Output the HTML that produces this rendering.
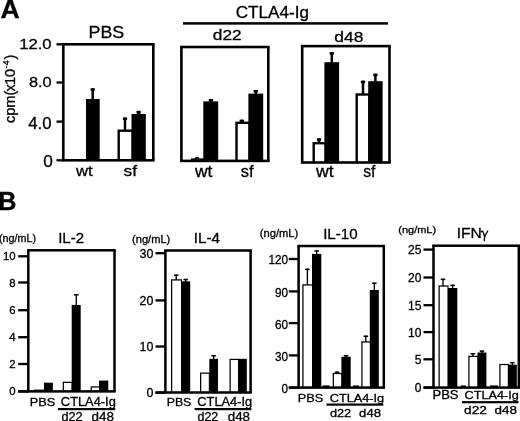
<!DOCTYPE html>
<html><head><meta charset="utf-8"><style>
html,body{margin:0;padding:0;background:#fff;}
svg{display:block;filter:grayscale(1) blur(0.3px);}
text{font-family:"Liberation Sans",sans-serif;fill:#000;stroke:#000;stroke-width:0.3px;}
</style></head><body>
<svg width="520" height="421" viewBox="0 0 520 421">
<rect width="520" height="421" fill="#fff"/>
<rect x="183.00" y="22.15" width="205.00" height="2.50" fill="#000"/>
<rect x="62.00" y="43.00" width="92.60" height="2.60" fill="#000"/>
<rect x="62.00" y="159.00" width="92.60" height="2.60" fill="#000"/>
<rect x="62.00" y="44.30" width="2.60" height="116.00" fill="#000"/>
<rect x="152.00" y="44.30" width="2.60" height="116.00" fill="#000"/>
<rect x="56.50" y="43.15" width="6.80" height="2.30" fill="#000"/>
<rect x="56.50" y="81.35" width="6.80" height="2.30" fill="#000"/>
<rect x="56.50" y="120.45" width="6.80" height="2.30" fill="#000"/>
<rect x="56.50" y="159.15" width="6.80" height="2.30" fill="#000"/>
<rect x="91.45" y="88.30" width="2.50" height="11.70" fill="#000"/>
<rect x="90.55" y="88.30" width="4.30" height="2.50" fill="#000"/>
<rect x="86.00" y="99.00" width="13.70" height="61.30" fill="#000"/>
<rect x="123.75" y="117.50" width="2.50" height="13.00" fill="#000"/>
<rect x="122.85" y="117.50" width="4.30" height="2.50" fill="#000"/>
<rect x="117.50" y="129.50" width="15.92" height="30.80" fill="#000"/>
<rect x="119.90" y="131.90" width="11.60" height="27.10" fill="#fff"/>
<rect x="137.35" y="110.90" width="2.50" height="4.10" fill="#000"/>
<rect x="136.45" y="110.90" width="4.30" height="2.50" fill="#000"/>
<rect x="131.50" y="114.00" width="14.30" height="46.30" fill="#000"/>
<rect x="180.10" y="45.70" width="89.50" height="2.60" fill="#000"/>
<rect x="180.10" y="159.60" width="89.50" height="2.60" fill="#000"/>
<rect x="180.10" y="47.00" width="2.60" height="113.90" fill="#000"/>
<rect x="267.00" y="47.00" width="2.60" height="113.90" fill="#000"/>
<rect x="195.75" y="157.30" width="2.50" height="2.10" fill="#000"/>
<rect x="194.85" y="157.30" width="4.30" height="2.50" fill="#000"/>
<rect x="191.00" y="158.40" width="13.92" height="2.50" fill="#000"/>
<rect x="193.40" y="160.80" width="9.60" height="-1.20" fill="#fff"/>
<rect x="209.65" y="99.00" width="2.50" height="3.40" fill="#000"/>
<rect x="208.75" y="99.00" width="4.30" height="2.50" fill="#000"/>
<rect x="203.30" y="101.40" width="14.90" height="59.50" fill="#000"/>
<rect x="240.55" y="119.70" width="2.50" height="2.90" fill="#000"/>
<rect x="239.65" y="119.70" width="4.30" height="2.50" fill="#000"/>
<rect x="235.30" y="121.60" width="15.02" height="39.30" fill="#000"/>
<rect x="237.70" y="124.00" width="10.70" height="35.60" fill="#fff"/>
<rect x="254.55" y="90.00" width="2.50" height="4.60" fill="#000"/>
<rect x="253.65" y="90.00" width="4.30" height="2.50" fill="#000"/>
<rect x="248.40" y="93.60" width="14.80" height="67.30" fill="#000"/>
<rect x="300.90" y="44.80" width="89.90" height="2.60" fill="#000"/>
<rect x="300.90" y="161.20" width="89.90" height="2.60" fill="#000"/>
<rect x="300.90" y="46.10" width="2.60" height="116.40" fill="#000"/>
<rect x="388.20" y="46.10" width="2.60" height="116.40" fill="#000"/>
<rect x="317.75" y="138.30" width="2.50" height="4.70" fill="#000"/>
<rect x="316.85" y="138.30" width="4.30" height="2.50" fill="#000"/>
<rect x="312.50" y="142.00" width="14.02" height="20.50" fill="#000"/>
<rect x="314.90" y="144.40" width="9.70" height="16.80" fill="#fff"/>
<rect x="330.55" y="52.10" width="2.50" height="11.10" fill="#000"/>
<rect x="329.65" y="52.10" width="4.30" height="2.50" fill="#000"/>
<rect x="324.40" y="62.20" width="14.70" height="100.30" fill="#000"/>
<rect x="361.75" y="80.70" width="2.50" height="13.60" fill="#000"/>
<rect x="360.85" y="80.70" width="4.30" height="2.50" fill="#000"/>
<rect x="355.50" y="93.30" width="14.62" height="69.20" fill="#000"/>
<rect x="357.90" y="95.70" width="10.30" height="65.50" fill="#fff"/>
<rect x="374.15" y="73.70" width="2.50" height="8.50" fill="#000"/>
<rect x="373.25" y="73.70" width="4.30" height="2.50" fill="#000"/>
<rect x="368.20" y="81.20" width="14.40" height="81.30" fill="#000"/>
<rect x="27.05" y="249.05" width="88.70" height="2.50" fill="#000"/>
<rect x="27.05" y="390.15" width="88.70" height="2.50" fill="#000"/>
<rect x="27.05" y="250.30" width="2.50" height="141.10" fill="#000"/>
<rect x="113.25" y="250.30" width="2.50" height="141.10" fill="#000"/>
<rect x="18.20" y="390.10" width="10.10" height="2.60" fill="#000"/>
<rect x="18.20" y="255.15" width="10.10" height="2.30" fill="#000"/>
<rect x="18.20" y="281.35" width="10.10" height="2.30" fill="#000"/>
<rect x="18.20" y="309.05" width="10.10" height="2.30" fill="#000"/>
<rect x="18.20" y="336.05" width="10.10" height="2.30" fill="#000"/>
<rect x="18.20" y="362.85" width="10.10" height="2.30" fill="#000"/>
<rect x="18.20" y="390.25" width="10.10" height="2.30" fill="#000"/>
<rect x="33.50" y="389.60" width="10.50" height="1.80" fill="#000"/>
<rect x="44.00" y="382.70" width="8.90" height="8.70" fill="#000"/>
<rect x="62.70" y="381.70" width="9.80" height="9.70" fill="#000"/>
<rect x="63.95" y="382.95" width="7.55" height="7.15" fill="#fff"/>
<rect x="75.62" y="294.00" width="1.35" height="12.00" fill="#000"/>
<rect x="74.05" y="294.00" width="4.50" height="1.50" fill="#000"/>
<rect x="71.70" y="305.00" width="9.00" height="86.40" fill="#000"/>
<rect x="90.60" y="386.30" width="9.40" height="5.10" fill="#000"/>
<rect x="91.85" y="387.55" width="7.15" height="2.55" fill="#fff"/>
<rect x="99.00" y="380.60" width="9.30" height="10.80" fill="#000"/>
<rect x="164.15" y="249.25" width="87.70" height="2.50" fill="#000"/>
<rect x="164.15" y="391.25" width="87.70" height="2.50" fill="#000"/>
<rect x="164.15" y="250.50" width="2.50" height="142.00" fill="#000"/>
<rect x="249.35" y="250.50" width="2.50" height="142.00" fill="#000"/>
<rect x="155.50" y="391.20" width="9.90" height="2.60" fill="#000"/>
<rect x="155.50" y="252.05" width="9.90" height="2.30" fill="#000"/>
<rect x="155.50" y="299.25" width="9.90" height="2.30" fill="#000"/>
<rect x="155.50" y="345.35" width="9.90" height="2.30" fill="#000"/>
<rect x="155.50" y="391.65" width="9.90" height="2.30" fill="#000"/>
<rect x="175.52" y="274.50" width="1.35" height="5.80" fill="#000"/>
<rect x="173.95" y="274.50" width="4.50" height="1.50" fill="#000"/>
<rect x="171.00" y="279.30" width="11.00" height="113.20" fill="#000"/>
<rect x="172.25" y="280.55" width="8.75" height="110.65" fill="#fff"/>
<rect x="184.97" y="278.80" width="1.35" height="3.50" fill="#000"/>
<rect x="183.40" y="278.80" width="4.50" height="1.50" fill="#000"/>
<rect x="181.10" y="281.30" width="9.10" height="111.20" fill="#000"/>
<rect x="200.00" y="372.50" width="9.80" height="20.00" fill="#000"/>
<rect x="201.25" y="373.75" width="7.55" height="17.45" fill="#fff"/>
<rect x="212.97" y="355.00" width="1.35" height="4.80" fill="#000"/>
<rect x="211.40" y="355.00" width="4.50" height="1.50" fill="#000"/>
<rect x="209.30" y="358.80" width="8.70" height="33.70" fill="#000"/>
<rect x="229.50" y="358.80" width="9.50" height="33.70" fill="#000"/>
<rect x="230.75" y="360.05" width="7.25" height="31.15" fill="#fff"/>
<rect x="238.00" y="358.80" width="8.80" height="33.70" fill="#000"/>
<rect x="297.35" y="244.75" width="87.70" height="2.50" fill="#000"/>
<rect x="297.35" y="386.35" width="87.70" height="2.50" fill="#000"/>
<rect x="297.35" y="246.00" width="2.50" height="141.60" fill="#000"/>
<rect x="382.55" y="246.00" width="2.50" height="141.60" fill="#000"/>
<rect x="288.80" y="386.30" width="9.80" height="2.60" fill="#000"/>
<rect x="288.80" y="257.85" width="9.80" height="2.30" fill="#000"/>
<rect x="288.80" y="290.25" width="9.80" height="2.30" fill="#000"/>
<rect x="288.80" y="321.95" width="9.80" height="2.30" fill="#000"/>
<rect x="288.80" y="354.25" width="9.80" height="2.30" fill="#000"/>
<rect x="288.80" y="386.45" width="9.80" height="2.30" fill="#000"/>
<rect x="306.72" y="268.60" width="1.35" height="16.70" fill="#000"/>
<rect x="305.15" y="268.60" width="4.50" height="1.50" fill="#000"/>
<rect x="302.30" y="284.30" width="10.70" height="103.30" fill="#000"/>
<rect x="303.55" y="285.55" width="8.45" height="100.75" fill="#fff"/>
<rect x="315.97" y="250.30" width="1.35" height="4.60" fill="#000"/>
<rect x="314.40" y="250.30" width="4.50" height="1.50" fill="#000"/>
<rect x="312.00" y="253.90" width="9.30" height="133.70" fill="#000"/>
<rect x="336.37" y="371.50" width="1.35" height="2.40" fill="#000"/>
<rect x="334.80" y="371.50" width="4.50" height="1.50" fill="#000"/>
<rect x="332.70" y="372.90" width="9.70" height="14.70" fill="#000"/>
<rect x="333.95" y="374.15" width="7.45" height="12.15" fill="#fff"/>
<rect x="345.37" y="355.00" width="1.35" height="2.80" fill="#000"/>
<rect x="343.80" y="355.00" width="4.50" height="1.50" fill="#000"/>
<rect x="341.40" y="356.80" width="9.30" height="30.80" fill="#000"/>
<rect x="365.12" y="335.50" width="1.35" height="6.80" fill="#000"/>
<rect x="363.55" y="335.50" width="4.50" height="1.50" fill="#000"/>
<rect x="361.30" y="341.30" width="10.00" height="46.30" fill="#000"/>
<rect x="362.55" y="342.55" width="7.75" height="43.75" fill="#fff"/>
<rect x="373.62" y="282.50" width="1.35" height="8.50" fill="#000"/>
<rect x="372.05" y="282.50" width="4.50" height="1.50" fill="#000"/>
<rect x="369.80" y="290.00" width="9.00" height="97.60" fill="#000"/>
<rect x="322.70" y="385.40" width="6.90" height="2.20" fill="#000"/>
<rect x="353.00" y="385.40" width="6.00" height="2.20" fill="#000"/>
<rect x="432.25" y="244.45" width="87.80" height="2.50" fill="#000"/>
<rect x="432.25" y="386.35" width="87.80" height="2.50" fill="#000"/>
<rect x="432.25" y="245.70" width="2.50" height="141.90" fill="#000"/>
<rect x="517.55" y="245.70" width="2.50" height="141.90" fill="#000"/>
<rect x="423.50" y="386.30" width="10.00" height="2.60" fill="#000"/>
<rect x="423.50" y="248.45" width="10.00" height="2.30" fill="#000"/>
<rect x="423.50" y="276.35" width="10.00" height="2.30" fill="#000"/>
<rect x="423.50" y="304.05" width="10.00" height="2.30" fill="#000"/>
<rect x="423.50" y="330.95" width="10.00" height="2.30" fill="#000"/>
<rect x="423.50" y="358.15" width="10.00" height="2.30" fill="#000"/>
<rect x="423.50" y="386.45" width="10.00" height="2.30" fill="#000"/>
<rect x="442.32" y="278.60" width="1.35" height="7.80" fill="#000"/>
<rect x="440.75" y="278.60" width="4.50" height="1.50" fill="#000"/>
<rect x="438.50" y="285.40" width="10.00" height="102.20" fill="#000"/>
<rect x="439.75" y="286.65" width="7.75" height="99.65" fill="#fff"/>
<rect x="451.93" y="284.60" width="1.35" height="4.40" fill="#000"/>
<rect x="450.35" y="284.60" width="4.50" height="1.50" fill="#000"/>
<rect x="447.90" y="288.00" width="9.40" height="99.60" fill="#000"/>
<rect x="472.22" y="353.00" width="1.35" height="3.80" fill="#000"/>
<rect x="470.65" y="353.00" width="4.50" height="1.50" fill="#000"/>
<rect x="468.30" y="355.80" width="10.20" height="31.80" fill="#000"/>
<rect x="469.55" y="357.05" width="7.95" height="29.25" fill="#fff"/>
<rect x="481.27" y="350.40" width="1.35" height="3.10" fill="#000"/>
<rect x="479.70" y="350.40" width="4.50" height="1.50" fill="#000"/>
<rect x="477.50" y="352.50" width="8.90" height="35.10" fill="#000"/>
<rect x="499.30" y="363.90" width="9.60" height="23.70" fill="#000"/>
<rect x="500.55" y="365.15" width="7.35" height="21.15" fill="#fff"/>
<rect x="511.67" y="362.00" width="1.35" height="3.70" fill="#000"/>
<rect x="510.10" y="362.00" width="4.50" height="1.50" fill="#000"/>
<rect x="507.90" y="364.70" width="8.90" height="22.90" fill="#000"/>
<rect x="460.80" y="385.40" width="5.20" height="2.20" fill="#000"/>
<rect x="490.00" y="385.40" width="8.00" height="2.20" fill="#000"/>
<rect x="57.90" y="408.00" width="57.30" height="2.20" fill="#000"/>
<rect x="194.60" y="408.00" width="56.70" height="2.20" fill="#000"/>
<rect x="326.50" y="403.50" width="56.80" height="2.20" fill="#000"/>
<rect x="462.00" y="401.10" width="56.50" height="2.20" fill="#000"/>
<text transform="translate(0.40,18.27) scale(1.000,1)" font-size="26.67" font-weight="bold">A</text>
<text transform="translate(88.57,37.83) scale(1.037,1)" font-size="17.18">PBS</text>
<text transform="translate(235.74,18.21) scale(1.061,1)" font-size="16.15">CTLA4-Ig</text>
<text transform="translate(212.81,39.84) scale(1.112,1)" font-size="15.54">d22</text>
<text transform="translate(334.30,42.15) scale(1.140,1)" font-size="15.27">d48</text>
<text transform="translate(19.17,49.45) scale(1.082,1)" font-size="15.35">12.0</text>
<text transform="translate(28.95,87.35) scale(1.064,1)" font-size="15.35">8.0</text>
<text transform="translate(28.16,129.24) scale(1.077,1)" font-size="15.63">4.0</text>
<text transform="translate(43.31,167.33) scale(1.015,1)" font-size="17.04">0</text>
<text transform="translate(76.00,175.65) scale(1.105,1)" font-size="15.08">wt</text>
<text transform="translate(123.48,175.65) scale(1.135,1)" font-size="15.27">sf</text>
<text transform="translate(195.00,177.34) scale(1.082,1)" font-size="16.15">wt</text>
<text transform="translate(240.80,177.34) scale(1.037,1)" font-size="15.95">sf</text>
<text transform="translate(316.00,177.34) scale(1.116,1)" font-size="15.85">wt</text>
<text transform="translate(363.23,177.34) scale(0.987,1)" font-size="15.95">sf</text>
<text transform="translate(-1.77,209.60) scale(0.962,1)" font-size="26.23" font-weight="bold">B</text>
<text transform="translate(-0.94,242.46) scale(1.050,1)" font-size="10.21">(ng/mL)</text>
<text transform="translate(58.14,243.00) scale(1.004,1)" font-size="15.00">IL-2</text>
<text transform="translate(132.03,243.06) scale(1.088,1)" font-size="10.21">(ng/mL)</text>
<text transform="translate(193.83,243.30) scale(0.993,1)" font-size="15.36">IL-4</text>
<text transform="translate(259.83,237.38) scale(1.103,1)" font-size="10.11">(ng/mL)</text>
<text transform="translate(323.14,239.15) scale(1.022,1)" font-size="14.79">IL-10</text>
<text transform="translate(398.24,232.82) scale(1.114,1)" font-size="9.89">(ng/mL)</text>
<text transform="translate(29.78,405.68) scale(1.092,1)" font-size="11.69">PBS</text>
<text transform="translate(60.86,406.04) scale(1.054,1)" font-size="12.20">CTLA4-Ig</text>
<text transform="translate(61.49,420.88) scale(1.041,1)" font-size="12.16">d22</text>
<text transform="translate(91.46,420.88) scale(1.108,1)" font-size="12.16">d48</text>
<text transform="translate(166.72,405.68) scale(1.051,1)" font-size="11.69">PBS</text>
<text transform="translate(197.36,405.81) scale(1.080,1)" font-size="11.87">CTLA4-Ig</text>
<text transform="translate(197.50,420.88) scale(1.025,1)" font-size="12.16">d22</text>
<text transform="translate(227.77,420.88) scale(1.098,1)" font-size="12.16">d48</text>
<text transform="translate(297.68,401.78) scale(1.105,1)" font-size="11.55">PBS</text>
<text transform="translate(329.76,401.62) scale(1.123,1)" font-size="11.32">CTLA4-Ig</text>
<text transform="translate(329.89,416.58) scale(1.087,1)" font-size="11.76">d22</text>
<text transform="translate(359.07,416.58) scale(1.120,1)" font-size="11.76">d48</text>
<text transform="translate(432.46,399.08) scale(1.076,1)" font-size="12.11">PBS</text>
<text transform="translate(464.57,398.75) scale(1.090,1)" font-size="11.65">CTLA4-Ig</text>
<text transform="translate(464.05,414.09) scale(1.239,1)" font-size="11.08">d22</text>
<text transform="translate(494.46,414.09) scale(1.211,1)" font-size="11.08">d48</text>
<text transform="translate(456.80,237.80) scale(1.013,1)" font-size="15.36">IFN</text>
<text transform="translate(15.60,260.35) scale(1.000,1)" font-size="11.4" text-anchor="end">10</text>
<text transform="translate(15.60,286.55) scale(1.000,1)" font-size="11.4" text-anchor="end">8</text>
<text transform="translate(15.60,314.25) scale(1.000,1)" font-size="11.4" text-anchor="end">6</text>
<text transform="translate(15.60,341.25) scale(1.000,1)" font-size="11.4" text-anchor="end">4</text>
<text transform="translate(15.60,368.05) scale(1.000,1)" font-size="11.4" text-anchor="end">2</text>
<text transform="translate(15.60,395.45) scale(1.000,1)" font-size="11.4" text-anchor="end">0</text>
<text transform="translate(153.30,257.60) scale(1.000,1)" font-size="12.4" text-anchor="end">30</text>
<text transform="translate(153.30,304.80) scale(1.000,1)" font-size="12.4" text-anchor="end">20</text>
<text transform="translate(153.30,350.90) scale(1.000,1)" font-size="12.4" text-anchor="end">10</text>
<text transform="translate(153.30,397.20) scale(1.000,1)" font-size="12.4" text-anchor="end">0</text>
<text transform="translate(288.10,264.40) scale(0.950,1)" font-size="12.4" text-anchor="end">120</text>
<text transform="translate(288.10,296.80) scale(0.950,1)" font-size="12.4" text-anchor="end">90</text>
<text transform="translate(288.10,328.50) scale(0.950,1)" font-size="12.4" text-anchor="end">60</text>
<text transform="translate(288.10,360.80) scale(0.950,1)" font-size="12.4" text-anchor="end">30</text>
<text transform="translate(288.10,393.00) scale(0.950,1)" font-size="12.4" text-anchor="end">0</text>
<text transform="translate(421.40,254.36) scale(1.000,1)" font-size="12.0" text-anchor="end">25</text>
<text transform="translate(421.40,282.26) scale(1.000,1)" font-size="12.0" text-anchor="end">20</text>
<text transform="translate(421.40,309.96) scale(1.000,1)" font-size="12.0" text-anchor="end">15</text>
<text transform="translate(421.40,336.86) scale(1.000,1)" font-size="12.0" text-anchor="end">10</text>
<text transform="translate(421.40,364.06) scale(1.000,1)" font-size="12.0" text-anchor="end">5</text>
<text transform="translate(421.40,392.36) scale(1.000,1)" font-size="12.0" text-anchor="end">0</text>
<path d="M481.0,232.0 C481.5,230.8 482.7,230.9 483.3,232.6 L484.7,236.8 M487.7,231.0 C486.6,233.0 485.3,235.0 484.7,236.8 C484.4,238.0 484.3,239.3 484.4,240.6" fill="none" stroke="#000" stroke-width="1.35" stroke-linecap="round"/>
<text transform="translate(15.2,123.0) rotate(-90) scale(1.04,1)" font-size="14">cpm(<tspan x="30.25">x</tspan><tspan x="36.5">1</tspan><tspan x="44.26">0</tspan><tspan x="52.3" font-size="8.5" dy="-6.5">-</tspan><tspan x="55.5" font-size="8.5">4</tspan><tspan x="61.0" dy="6.5">)</tspan></text>
</svg></body></html>
